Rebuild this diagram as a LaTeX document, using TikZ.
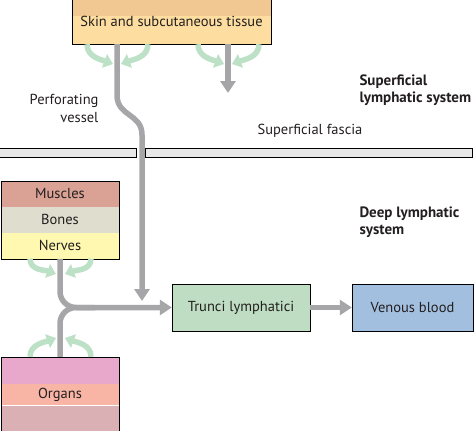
\documentclass[tikz,border=0pt]{standalone}
\usepackage{fontspec}
\setmainfont{PT Sans}
\usetikzlibrary{arrows.meta, positioning}
\definecolor{skintop}{HTML}{F2C892}
\definecolor{skinbot}{HTML}{FDDEA0}
\definecolor{muscle}{HTML}{DAA195}
\definecolor{bone}{HTML}{DFDDCD}
\definecolor{nerve}{HTML}{FFF8B0}
\definecolor{organtop}{HTML}{E7A8CB}
\definecolor{organmid}{HTML}{F8B5A5}
\definecolor{organbot}{HTML}{DAB0B5}
\definecolor{trunci}{HTML}{BEDDC2}
\definecolor{venous}{HTML}{A3BFE0}
\definecolor{vesselgray}{HTML}{A6A6A8}
\definecolor{flowgreen}{HTML}{BDE1C6}
\definecolor{fasciagray}{HTML}{E8E8E8}
\definecolor{ink}{HTML}{231F20}

\begin{document}
\begin{tikzpicture}[x=1pt, y=-1pt, font=\fontsize{14.5}{18}\selectfont, text=ink,
  box/.style={draw, thin, minimum height=47pt, inner sep=0pt, align=center},
  band/.style={minimum width=117pt, inner sep=0pt},
  vessel/.style={draw=vesselgray, line width=5.5pt},
  varr/.style={vessel, -{Triangle[width=15pt,length=12pt]}},
  garr/.style={draw=flowgreen, line width=5.5pt, -{Triangle[width=14pt,length=9pt]}},
  fascia/.style={draw, thin, fill=fasciagray},
  sys/.style={font=\fontsize{15}{17.5}\selectfont\bfseries, align=left, anchor=north west}
]
  \useasboundingbox (0,0) rectangle (475,431);

  \node[box, fill=skinbot, minimum width=199pt, minimum height=45pt,
        path picture={\fill[skintop] (path picture bounding box.north west)
          rectangle ([yshift=-17pt]path picture bounding box.north east);}]
    (skin) at (171.5,21.5) {\raisebox{-2pt}{Skin and subcutaneous tissue}};

  \node[band, fill=muscle, minimum height=25.5pt] (muscles) at (60,194) {Muscles};
  \node[band, fill=bone, minimum height=25.5pt, below=0pt of muscles] (bones) {Bones};
  \node[band, fill=nerve, minimum height=25.5pt, below=0pt of bones] (nerves) {Nerves};
  \draw[thin] (muscles.north west) rectangle (nerves.south east);

  \node[band, fill=organtop, minimum height=27pt] (organtop) at (60,370.5) {};
  \node[band, fill=organmid, minimum height=21pt, below=0pt of organtop] (organs) {Organs};
  \node[band, fill=organbot, minimum height=25pt, below=0pt of organs] (organbot) {};
  \draw[thin] (organtop.north west) rectangle (organbot.south east);

  \node[box, fill=trunci, minimum width=138pt] (trunci) at (241,307.5) {Trunci lymphatici};
  \node[box, fill=venous, minimum width=121pt] (venous) at (412.5,307.5) {Venous blood};

  \draw[fascia] (-1,148) rectangle (136,157);
  \draw[fascia] (145,148) rectangle (472,157);

  \coordinate (perfo) at (117,0);
  \coordinate (drain) at (228,0);
  \coordinate (join) at (142,301);

  \draw[garr] (skin.south -| 87,0) to[out=-90,in=160] (113,64);
  \draw[garr] (skin.south -| 148,0) to[out=-90,in=20] (121,64);
  \draw[garr] (skin.south -| 198,0) to[out=-90,in=160] (224,64);
  \draw[garr] (skin.south -| 259,0) to[out=-90,in=20] (232,64);
  \draw[garr] (nerves.south -| 30,0) to[out=-90,in=160] (56,274);
  \draw[garr] (nerves.south -| 91,0) to[out=-90,in=20] (65,274);
  \draw[garr] (organtop.north -| 30,0) to[out=90,in=-160] (56,338);
  \draw[garr] (organtop.north -| 91,0) to[out=90,in=-20] (65,338);

  \draw[varr] (skin.south -| perfo) -- (117,95)
    .. controls (117,117) and (142,113) .. (142,135) -- (join);
  \draw[varr] (skin.south -| drain) -- (228,93);
  \draw[varr, rounded corners=16pt] (nerves.south) |- (trunci.west);
  \draw[vessel, rounded corners=16pt] (organtop.north) |- (95,307.5);
  \draw[varr] (trunci) -- (venous);

  \node[align=right, anchor=east] (perflabel) at (102,108)
    {Perforating\\vessel};
  \node (fascialabel) at (310,131) {Superficial fascia};
  \node[sys] (suplabel) at (356,71) {Superficial\\lymphatic system};
  \node[sys] (deeplabel) at (356,203) {Deep lymphatic\\system};
\end{tikzpicture}
\end{document}
